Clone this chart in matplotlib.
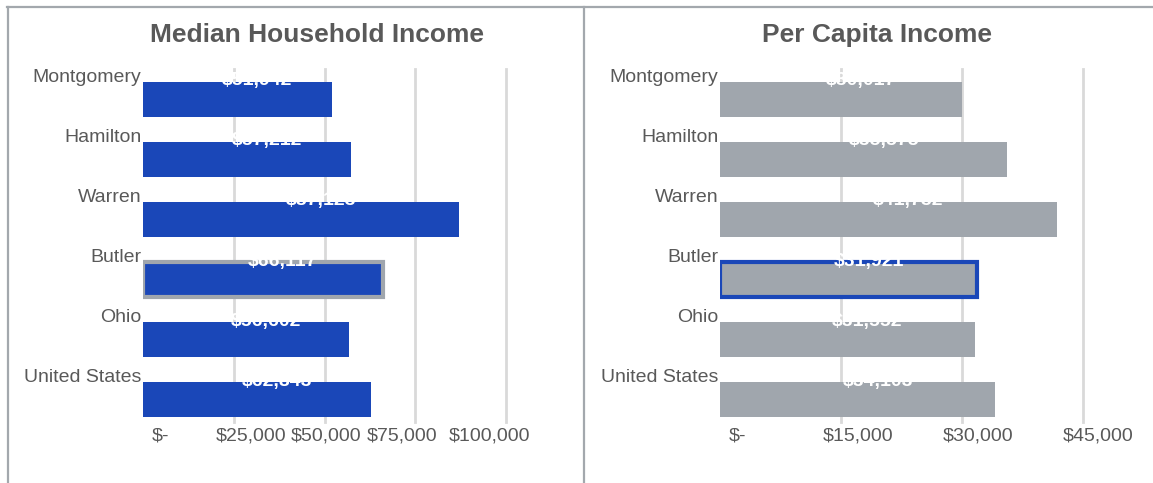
import matplotlib
matplotlib.use("Agg")
import matplotlib.pyplot as plt
import matplotlib.transforms as mtransforms
from matplotlib.lines import Line2D
import numpy as np

# ---- data ----
categories = ["Montgomery", "Hamilton", "Warren", "Butler", "Ohio", "United States"]
median_household_income = [51942, 57212, 87123, 66117, 56602, 62843]
per_capita_income = [30017, 35575, 41732, 31921, 31552, 34103]
mhi_ticks = [0, 25000, 50000, 75000, 100000]
mhi_tick_labels = ["$-", "$25,000", "$50,000", "$75,000", "$100,000"]
pci_ticks = [0, 15000, 30000, 45000]
pci_tick_labels = ["$-", "$15,000", "$30,000", "$45,000"]
titles = ["Median Household Income", "Per Capita Income"]
highlight = "Butler"

BLUE = "#1a47b8"
GRAY = "#a0a6ad"
TEXT = "#595959"
FRAME = "#a3a8ad"
GRID = "#d9d9d9"

plt.rcParams['font.family'] = ['Liberation Sans', 'DejaVu Sans']

W, H = 1153, 483
fig = plt.figure(figsize=(W / 100, H / 100), dpi=100)

def fx(px):
    return px / W

def fy(py):
    return 1 - py / H

ax_top, ax_bot = 69, 422
ax1 = fig.add_axes([fx(142.7), fy(ax_bot), fx(506.3 - 142.7), (ax_bot - ax_top) / H])
ax2 = fig.add_axes([fx(720), fy(ax_bot), fx(1083 - 720), (ax_bot - ax_top) / H])

bar_h = 0.58

def draw(ax, values, color, edge_color, ticks, tick_labels, xmax, label_offsets):
    y = np.arange(len(categories))
    bars = ax.barh(y, values, height=bar_h, color=color, zorder=3, linewidth=0)
    for b, cat in zip(bars, categories):
        if cat == highlight:
            b.set_edgecolor(edge_color)
            b.set_linewidth(3)
    for yi, v in zip(y, values):
        ax.annotate(f"${v:,.0f}", xy=(v / 2, yi - bar_h / 2), xytext=(14.5, -2.5),
                    textcoords="offset points", ha="center", va="baseline",
                    color="white", fontsize=14, fontweight="bold", zorder=4,
                    annotation_clip=False)
    ax.set_xlim(0, xmax)
    ax.set_ylim(len(categories) - 1 + 0.37, -0.5)
    ax.set_xticks(ticks)
    ax.set_xticklabels(tick_labels)
    ax.set_yticks(y - bar_h / 2)
    ax.set_yticklabels(categories)
    ax.tick_params(axis="both", length=0, colors=TEXT, labelsize=14)
    ax.tick_params(axis="y", pad=1)
    ax.tick_params(axis="x", pad=4)
    for lab in ax.get_yticklabels():
        lab.set_va("baseline")
    for lab, off in zip(ax.get_xticklabels(), label_offsets):
        lab.set_transform(lab.get_transform() +
                          mtransforms.ScaledTranslation(off / 100, 0, fig.dpi_scale_trans))
    ax.grid(axis="x", color=GRID, linewidth=2, zorder=0)
    ax.set_axisbelow(True)
    gl = ax.xaxis.get_gridlines()
    gl[0].set_visible(False)
    for g in gl:
        g.set_clip_on(False)
    for s in ax.spines.values():
        s.set_visible(False)

draw(ax1, median_household_income, BLUE, GRAY, mhi_ticks, mhi_tick_labels, 100000,
     [18, 17, 2, -13, -17])
draw(ax2, per_capita_income, GRAY, BLUE, pci_ticks, pci_tick_labels, 45000,
     [17, 17, 16, 15])

# titles
fig.text(fx(316.5), fy(41.7), titles[0], ha="center", va="baseline", color=TEXT,
         fontsize=19, fontweight="bold")
fig.text(fx(877.5), fy(41.7), titles[1], ha="center", va="baseline", color=TEXT,
         fontsize=19, fontweight="bold")

# frame lines
fig.add_artist(Line2D([fx(7), 1], [fy(7), fy(7)], color=FRAME, linewidth=1.6))
fig.add_artist(Line2D([fx(7.5), fx(7.5)], [fy(7), 0], color=FRAME, linewidth=1.6))
fig.add_artist(Line2D([fx(584), fx(584)], [fy(7), 0], color=FRAME, linewidth=1.6))

fig.savefig("out.png", dpi=100)
